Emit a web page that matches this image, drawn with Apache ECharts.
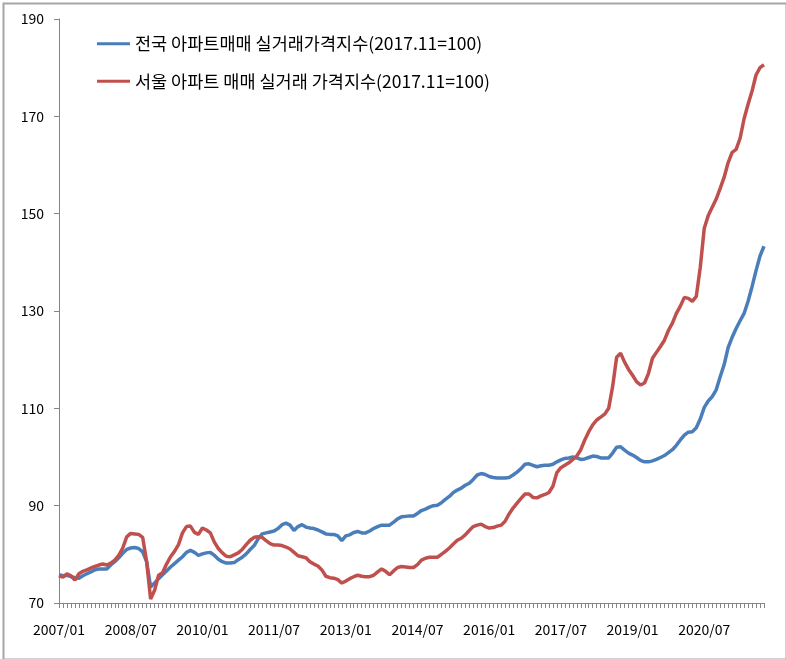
<!DOCTYPE html>
<html>
<head>
<meta charset="utf-8">
<script src="https://cdn.jsdelivr.net/npm/echarts@6/dist/echarts.min.js"></script>
<style>html,body{margin:0;padding:0;background:#fff}#c{width:786px;height:659px}</style>
</head>
<body>
<div id="c"></div>
<script>
// Series names
const nameNational = '전국 아파트매매 실거래가격지수(2017.11=100)';
const nameSeoul = '서울 아파트 매매 실거래 가격지수(2017.11=100)';

// Monthly categories 2007/01 .. 2021/10
const startYear = 2007, monthCount = 178;
const categories = [];
for (let i = 0; i < monthCount; i++) {
  const y = startYear + Math.floor(i / 12), m = (i % 12) + 1;
  categories.push(y + '/' + (m < 10 ? '0' + m : m));
}

// 전국 (national) index values, monthly
const national = [
  75.8,75.6,75.7,75.4,75.2,75.1,75.6,76.0,76.4,76.8,77.0,77.0,
  77.0,77.8,78.5,79.3,80.2,81.0,81.3,81.4,81.2,80.5,78.5,73.3,
  74.1,75.0,75.8,76.6,77.4,78.1,78.8,79.5,80.4,80.8,80.4,79.8,
  80.1,80.3,80.4,79.8,79.0,78.5,78.2,78.2,78.3,78.9,79.4,80.1,
  81.0,81.8,83.2,84.2,84.4,84.6,84.8,85.3,86.1,86.4,86.0,84.9,
  85.7,86.1,85.6,85.4,85.3,85.0,84.6,84.2,84.1,84.1,83.8,82.8,
  83.8,84.0,84.5,84.7,84.4,84.4,84.8,85.3,85.7,86.0,86.0,86.0,
  86.6,87.3,87.7,87.8,87.9,87.9,88.4,89.0,89.3,89.7,90.0,90.1,
  90.6,91.3,91.9,92.7,93.2,93.6,94.2,94.6,95.4,96.3,96.6,96.4,
  96.0,95.8,95.7,95.7,95.7,95.8,96.3,96.9,97.6,98.5,98.6,98.3,
  98.0,98.2,98.3,98.3,98.5,99.0,99.4,99.7,99.8,100.0,99.8,99.5,
  99.6,99.9,100.2,100.1,99.8,99.8,99.8,100.8,102.0,102.1,101.4,100.8,
  100.4,99.9,99.3,99.0,99.0,99.2,99.5,99.9,100.3,100.9,101.5,102.4,
  103.5,104.5,105.1,105.2,106.0,107.8,110.2,111.5,112.4,113.8,116.5,119.0,
  122.5,124.6,126.4,128.0,129.5,132.0,135.0,138.3,141.3,143.3
];

// 서울 (Seoul) index values, monthly
const seoul = [
  75.6,75.3,76.0,75.6,74.7,76.0,76.5,76.8,77.2,77.5,77.8,78.0,
  77.8,78.2,78.8,79.8,81.3,83.6,84.3,84.2,84.1,83.5,78.5,70.8,
  72.6,75.7,76.2,78.0,79.5,80.6,82.0,84.4,85.7,85.8,84.5,84.1,
  85.4,85.0,84.4,82.5,81.2,80.3,79.6,79.5,79.9,80.3,81.0,82.0,
  82.9,83.5,83.6,83.5,82.8,82.2,81.9,81.9,81.8,81.5,81.1,80.4,
  79.7,79.5,79.3,78.5,78.0,77.6,76.8,75.5,75.2,75.1,74.8,74.1,
  74.5,75.0,75.4,75.7,75.5,75.4,75.4,75.7,76.4,77.0,76.5,75.8,
  76.6,77.3,77.5,77.4,77.3,77.3,77.9,78.8,79.2,79.4,79.4,79.4,
  80.0,80.6,81.3,82.1,82.9,83.3,84.0,84.9,85.7,86.0,86.2,85.7,
  85.4,85.5,85.8,86.0,86.8,88.3,89.5,90.5,91.5,92.4,92.4,91.7,
  91.6,92.0,92.3,92.7,94.0,96.8,97.8,98.3,98.8,99.5,100.2,101.5,
  103.5,105.2,106.6,107.6,108.2,108.8,110.0,114.5,120.5,121.3,119.5,118.0,
  116.8,115.5,114.8,115.2,117.2,120.3,121.5,122.7,124.0,126.0,127.5,129.5,
  131.0,132.8,132.6,132.0,133.0,139.0,147.0,149.6,151.3,153.0,155.2,157.5,
  160.5,162.6,163.2,165.5,169.5,172.5,175.2,178.5,180.0,180.6
];

// Y axis range
const yMin = 70, yMax = 190, yStep = 20;

const font = '"Noto Sans CJK KR", "Noto Sans", sans-serif';
const chart = echarts.init(document.getElementById('c'), null, {renderer: 'canvas'});
chart.setOption({
  animation: false,
  backgroundColor: '#fff',
  graphic: [{
    type: 'rect', left: 1, top: 1, silent: true,
    shape: {width: 783, height: 656},
    style: {fill: 'none', stroke: '#a6a6a6', lineWidth: 2}
  }],
  grid: {left: 59, right: 22, top: 19, bottom: 56, containLabel: false},
  legend: {
    orient: 'vertical', left: 97, top: 35, padding: 0, itemGap: 20,
    itemWidth: 33, itemHeight: 3, icon: 'rect',
    textStyle: {fontFamily: font, fontSize: 17.5, color: '#000', padding: [0, 0, 0, 0]},
    data: [nameNational, nameSeoul]
  },
  xAxis: {
    type: 'category', data: categories, boundaryGap: false,
    axisLine: {lineStyle: {color: '#868686', width: 1}},
    axisTick: {interval: 0, length: 5, lineStyle: {color: '#868686'}},
    axisLabel: {interval: 17, color: '#000', fontFamily: font, fontSize: 14, margin: 20},
    splitLine: {show: false}
  },
  yAxis: {
    type: 'value', min: yMin, max: yMax, interval: yStep,
    axisLine: {show: true, lineStyle: {color: '#868686', width: 1}},
    axisTick: {show: true, length: 5, lineStyle: {color: '#868686'}},
    axisLabel: {color: '#000', fontFamily: font, fontSize: 14, margin: 15},
    splitLine: {show: false}
  },
  series: [
    {name: nameNational, type: 'line', data: national, symbol: 'none', smooth: false,
     lineStyle: {color: '#4a7ebb', width: 3.5}, itemStyle: {color: '#4a7ebb'}},
    {name: nameSeoul, type: 'line', data: seoul, symbol: 'none', smooth: false,
     lineStyle: {color: '#c0504d', width: 3.5}, itemStyle: {color: '#c0504d'}}
  ]
});
</script>
</body>
</html>
